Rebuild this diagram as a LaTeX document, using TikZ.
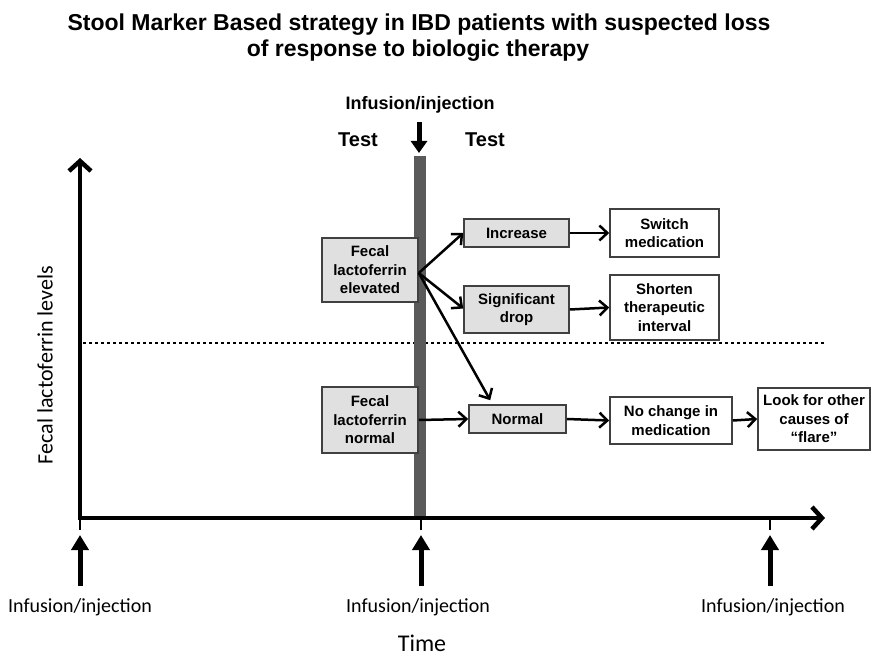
\documentclass[tikz,border=0pt]{standalone}
\usepackage{fontspec}
\setmainfont{Liberation Sans}
\newfontfamily\calib{Carlito}
\usetikzlibrary{arrows.meta}
\definecolor{barcol}{HTML}{5A5A5A}
\definecolor{boxfill}{HTML}{E0E0E0}
\definecolor{boxline}{HTML}{404040}
\begin{document}
\begin{tikzpicture}[x=1pt,y=-1pt,
  gbox/.style={draw=boxline, line width=1.6pt, fill=boxfill, align=center,
    font=\bfseries\fontsize{15}{18.5}\selectfont, inner sep=0pt},
  wbox/.style={gbox, fill=white},
  conn/.style={line width=2.5pt, -{Straight Barb[length=8pt,width=15pt]}},
  axis/.style={line width=4.5pt, line cap=butt},
  uparrow/.style={line width=5pt, -{Triangle[length=15pt,width=17pt]}},
  ticklab/.style={font=\calib\fontsize{20}{24}\selectfont},
  titlefont/.style={font=\bfseries\fontsize{23}{26}\selectfont, anchor=base, inner sep=0pt},
  tick/.style={line width=2pt}
]
\useasboundingbox (0,0) rectangle (878,658);

% title
\node[titlefont] (title1) at (419,30.5) {Stool Marker Based strategy in IBD patients with suspected loss};
\node[titlefont] (title2) at (418,56.5) {of response to biologic therapy};

% top labels
\node[font=\bfseries\fontsize{18}{21}\selectfont] (topinf) at (420,105) {Infusion/injection};
\node[font=\bfseries\fontsize{20}{23}\selectfont] (testl) at (358,140) {Test};
\node[font=\bfseries\fontsize{20}{23}\selectfont] (testr) at (485,140) {Test};
\coordinate (dtop) at (419,122);
\coordinate (dtip) at (419,153);
\draw[line width=5pt, -{Triangle[length=12pt,width=16pt]}] (dtop) -- (dtip);

% dotted threshold
\coordinate (dotA) at (83,343);
\coordinate (dotB) at (825,343);
\draw[line width=2.5pt, dash pattern=on 2.5pt off 3.5pt] (dotA) -- (dotB);

% bar
\fill[barcol] (414,156) rectangle (426,518);

% axes
\coordinate (origin) at (80,518);
\coordinate (ytip) at (80,158);
\coordinate (xtip) at (825,518);
\draw[axis, {Straight Barb[length=10pt,width=22pt]}-{Straight Barb[length=10pt,width=22pt]}] (ytip) -- (origin) -- (xtip);

% ticks and up arrows
\foreach \n/\x in {a/80, b/421, c/770}{
  \coordinate (t\n) at (\x,520);
  \coordinate (tb\n) at (\x,530);
  \draw[tick] (t\n) -- (tb\n);
  \coordinate (ua\n) at (\x,586);
  \coordinate (ut\n) at (\x,535);
  \draw[uparrow] (ua\n) -- (ut\n);
}
\node[ticklab] (la) at (80,607) {Infusion/injection};
\node[ticklab] (lb) at (418,607) {Infusion/injection};
\node[ticklab] (lc) at (773,607) {Infusion/injection};
\node[font=\calib\fontsize{24}{28}\selectfont, inner sep=1pt] (time) at (422,643) {Time};
\node[font=\calib\fontsize{22}{26}\selectfont, rotate=90] (ylab) at (45,365) {Fecal lactoferrin levels};

% boxes
\node[gbox, minimum width=96pt, minimum height=64pt] (elev) at (370,270) {Fecal\\lactoferrin\\elevated};
\node[gbox, minimum width=96pt, minimum height=66pt] (fnorm) at (370,420) {Fecal\\lactoferrin\\normal};
\node[gbox, minimum width=105pt, minimum height=28pt] (inc) at (516.5,233) {Increase};
\node[gbox, minimum width=105pt, minimum height=47pt] (drop) at (516.5,309.5) {Significant\\drop};
\node[gbox, minimum width=97pt, minimum height=28pt] (nbox) at (517.5,419) {Normal};
\node[wbox, minimum width=109pt, minimum height=48pt] (switch) at (664.5,233) {Switch\\medication};
\node[wbox, minimum width=109pt, minimum height=65pt] (short) at (664.5,307.5) {Shorten\\therapeutic\\interval};
\node[wbox, minimum width=122pt, minimum height=47pt] (nochg) at (671,420.5) {No change in\\medication};
\node[wbox, minimum width=112pt, minimum height=62pt] (look) at (814,419) {Look for other\\causes of\\``flare''};

% connectors
\coordinate (eout) at ([yshift=-3pt]elev.east);
\draw[conn] (eout) -- (inc.west);
\draw[conn] (eout) -- ([yshift=1pt]drop.west);
\draw[conn] (eout) -- ([xshift=22pt,yshift=4pt]nbox.north west);
\draw[conn] (fnorm.east) -- (nbox.west);
\draw[conn] (inc.east) -- (switch.west);
\draw[conn] (drop.east) -- (short.west);
\draw[conn] (nbox.east) -- (nochg.west);
\draw[conn] (nochg.east) -- (look.west);
\end{tikzpicture}
\end{document}
